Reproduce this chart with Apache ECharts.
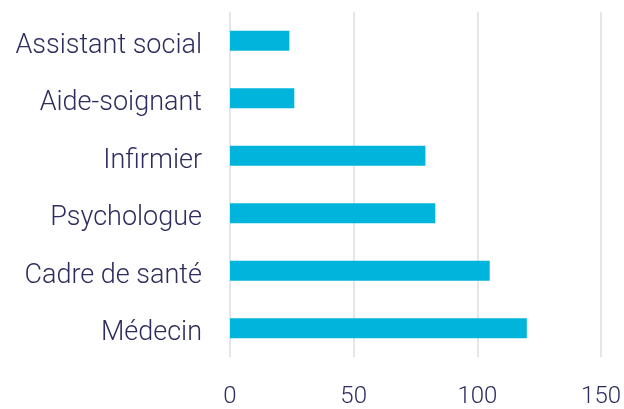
<!DOCTYPE html>
<html>
<head>
<meta charset="utf-8">
<script src="https://cdn.jsdelivr.net/npm/echarts@6/dist/echarts.min.js"></script>
<style>
html,body{margin:0;padding:0;background:#fff;}
#c{width:624px;height:409px;}
</style>
</head>
<body>
<div id="c"></div>
<script>
const categories = ["Médecin", "Cadre de santé", "Psychologue", "Infirmier", "Aide-soignant", "Assistant social"];
const values = [120, 105, 83, 79, 26, 24];
const xTicks = [0, 50, 100, 150];

const chart = echarts.init(document.getElementById('c'), null, {renderer: 'canvas'});
chart.setOption({
  animation: false,
  backgroundColor: '#ffffff',
  grid: {left: 230, right: 22, top: 12, bottom: 47, containLabel: false},
  xAxis: {
    type: 'value',
    min: xTicks[0],
    max: xTicks[xTicks.length - 1],
    interval: 50,
    axisLine: {show: false},
    axisTick: {show: false},
    splitLine: {show: true, lineStyle: {color: '#dcdde5', width: 1.5}},
    axisLabel: {color: '#2d2c5e', fontSize: 24, fontFamily: 'Roboto', fontWeight: 300, margin: 28}
  },
  yAxis: {
    type: 'category',
    data: categories,
    axisLine: {show: false},
    axisTick: {show: false},
    axisLabel: {
      margin: 28,
      formatter: function (v) { return '{a|' + v + '}'; },
      rich: {
        a: {color: '#2d2c5e', fontSize: 27, fontFamily: 'Roboto', fontWeight: 300, padding: [10, 0, 0, 0]}
      }
    }
  },
  series: [{
    type: 'bar',
    data: values,
    barWidth: 20,
    itemStyle: {color: '#00b4dc'}
  }]
});
</script>
</body>
</html>
